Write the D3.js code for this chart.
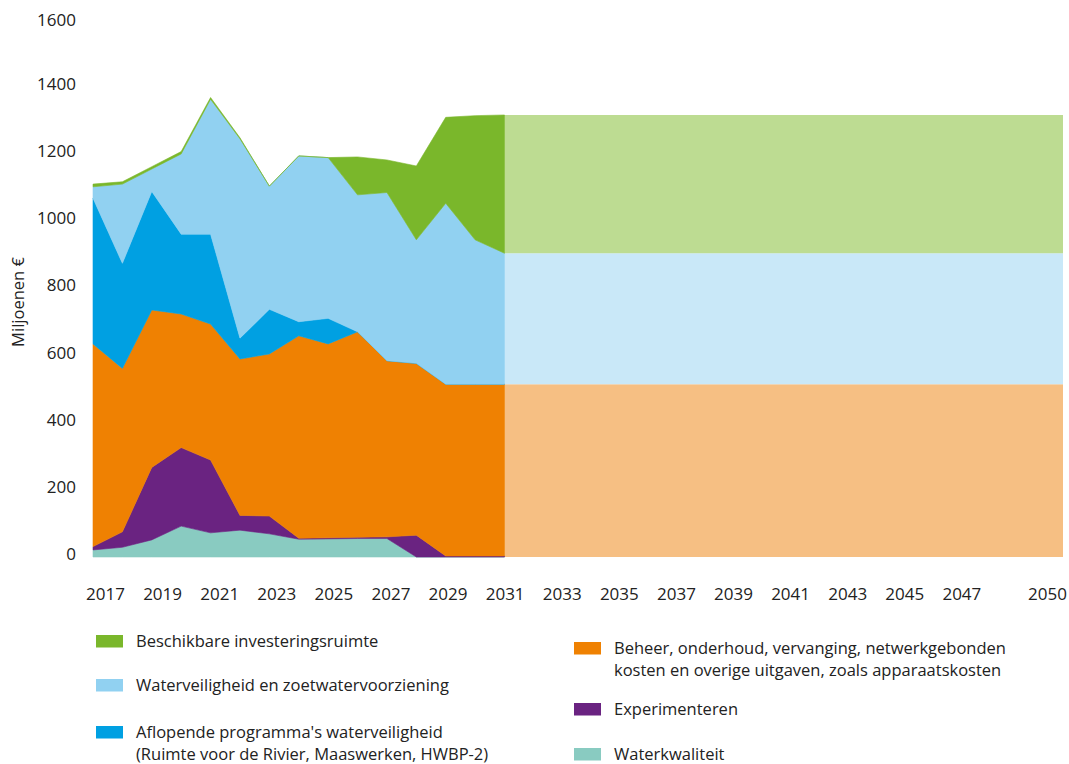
<!DOCTYPE html>
<html>
<head>
<meta charset="utf-8">
<script src="https://cdn.jsdelivr.net/npm/d3@7"></script>
<style>
  html, body { margin: 0; padding: 0; background: #fff; }
  svg { display: block; }
  text { font-family: "Open Sans", sans-serif; fill: #222; }
</style>
</head>
<body>
<svg id="chart" width="1069" height="764"></svg>
<script>
// ---------- data ----------
const years = [2017, 2018, 2019, 2020, 2021, 2022, 2023, 2024, 2025, 2026, 2027, 2028, 2029, 2030, 2031];
const waterkwaliteit   = [21, 29, 51, 92, 72, 80, 69, 53, 54, 55, 55, 0, 0, 0, 0];
const experimenteren   = [10, 46, 216, 234, 217, 44, 53, 3, 3, 4, 5, 65, 3, 3, 3];
const beheer           = [604, 487, 469, 398, 405, 466, 483, 603, 578, 612, 525, 512, 512, 512, 512];
const aflopende        = [434, 313, 353, 238, 268, 62, 133, 42, 76, 0, 0, 0, 0, 0, 0];
const waterveiligheid  = [34, 236, 67, 239, 402, 594, 367, 494, 479, 408, 501, 368, 539, 430, 390];
const investering      = [8, 7, 7, 7, 5, 3, 0, 0, 0, 113, 97, 220, 256, 370, 412];

// projection block 2031-2050
const futureYears = [2031, 2050];
const futureBeheer = [515, 515];
const futureWaterveiligheid = [390, 390];
const futureInvestering = [412, 412];

const yTicks = [0, 200, 400, 600, 800, 1000, 1200, 1400, 1600];
const xTickYears = [2017, 2019, 2021, 2023, 2025, 2027, 2029, 2031, 2033, 2035, 2037, 2039, 2041, 2043, 2045, 2047, 2050];

const seriesKeys = ["waterkwaliteit", "experimenteren", "beheer", "aflopende", "waterveiligheid", "investering"];
const colors = {
  waterkwaliteit: "#89cbc1",
  experimenteren: "#6a2381",
  beheer: "#ef8102",
  aflopende: "#00a0e2",
  waterveiligheid: "#91d1f1",
  investering: "#7ab72b"
};
const futureColors = {
  beheer: "#f6bf83",
  waterveiligheid: "#c9e8f8",
  investering: "#bddc92"
};

// ---------- build tables ----------
const table = years.map((y, i) => ({
  year: y,
  waterkwaliteit: waterkwaliteit[i],
  experimenteren: experimenteren[i],
  beheer: beheer[i],
  aflopende: aflopende[i],
  waterveiligheid: waterveiligheid[i],
  investering: investering[i]
}));
const futureKeys = ["beheer", "waterveiligheid", "investering"];
const futureTable = futureYears.map((y, i) => ({
  year: y,
  beheer: futureBeheer[i],
  waterveiligheid: futureWaterveiligheid[i],
  investering: futureInvestering[i]
}));

// ---------- scales ----------
const svg = d3.select("#chart");
const x = d3.scaleLinear().domain([2017, 2050]).range([93, 1063]);
const xLabel = d3.scaleLinear().domain([2017, 2050]).range([105, 1047]);
const y = d3.scaleLinear().domain([0, 1600]).range([557, 20]);

const area = d3.area()
  .x(d => x(d.data.year))
  .y0(d => y(d[0]))
  .y1(d => y(d[1]));

// future block first
const futureStack = d3.stack().keys(futureKeys)(futureTable);
svg.append("g").selectAll("path")
  .data(futureStack)
  .join("path")
  .attr("d", area)
  .attr("fill", d => futureColors[d.key]);

const stack = d3.stack().keys(seriesKeys)(table);
svg.append("g").selectAll("path")
  .data(stack)
  .join("path")
  .attr("d", area)
  .attr("fill", d => colors[d.key])
  .attr("stroke", d => colors[d.key])
  .attr("stroke-width", 0.6)
  .attr("stroke-linejoin", "round");

// ---------- y axis ----------
const yAxis = d3.axisLeft(y).tickValues(yTicks).tickSize(0).tickPadding(0).tickFormat(d3.format("d"));
const yg = svg.append("g").attr("transform", "translate(76,0)").call(yAxis);
yg.select(".domain").remove();
yg.selectAll("text")
  .attr("font-size", 17)
  .attr("font-family", "'Open Sans', sans-serif")
  .attr("fill", "#222")
  .attr("dy", d => d === 1600 ? "0.3em" : "0.14em");

svg.append("text")
  .attr("transform", "translate(24,302) rotate(-90)")
  .attr("text-anchor", "middle")
  .attr("font-size", 16.5)
  .text("Miljoenen €");

// ---------- x axis ----------
const xAxis = d3.axisBottom(xLabel).tickValues(xTickYears).tickSize(0).tickPadding(0).tickFormat(d3.format("d"));
const xg = svg.append("g").attr("transform", "translate(0,588)").call(xAxis);
xg.select(".domain").remove();
xg.selectAll("text")
  .attr("font-size", 17)
  .attr("font-family", "'Open Sans', sans-serif")
  .attr("fill", "#222")
  .attr("dy", "0.71em");

// ---------- legend ----------
const legendItems = [
  { key: "investering", x: 96, y: 635, lines: ["Beschikbare investeringsruimte"] },
  { key: "waterveiligheid", x: 96, y: 679, lines: ["Waterveiligheid en zoetwatervoorziening"] },
  { key: "aflopende", x: 96, y: 726, lines: ["Aflopende programma's waterveiligheid", "(Ruimte voor de Rivier, Maaswerken, HWBP-2)"] },
  { key: "beheer", x: 574, y: 642, lines: ["Beheer, onderhoud, vervanging, netwerkgebonden", "kosten en overige uitgaven, zoals apparaatskosten"] },
  { key: "experimenteren", x: 574, y: 703, lines: ["Experimenteren"] },
  { key: "waterkwaliteit", x: 574, y: 748, lines: ["Waterkwaliteit"] }
];
const lg = svg.append("g");
legendItems.forEach(it => {
  lg.append("rect")
    .attr("x", it.x).attr("y", it.y)
    .attr("width", 27).attr("height", 12.5)
    .attr("fill", colors[it.key]);
  const t = lg.append("text")
    .attr("x", it.x + 40).attr("y", it.y + 11.5)
    .attr("font-size", 16.5);
  it.lines.forEach((ln, i) => {
    t.append("tspan").attr("x", it.x + 40).attr("dy", i === 0 ? 0 : 22).text(ln);
  });
});
</script>
</body>
</html>
